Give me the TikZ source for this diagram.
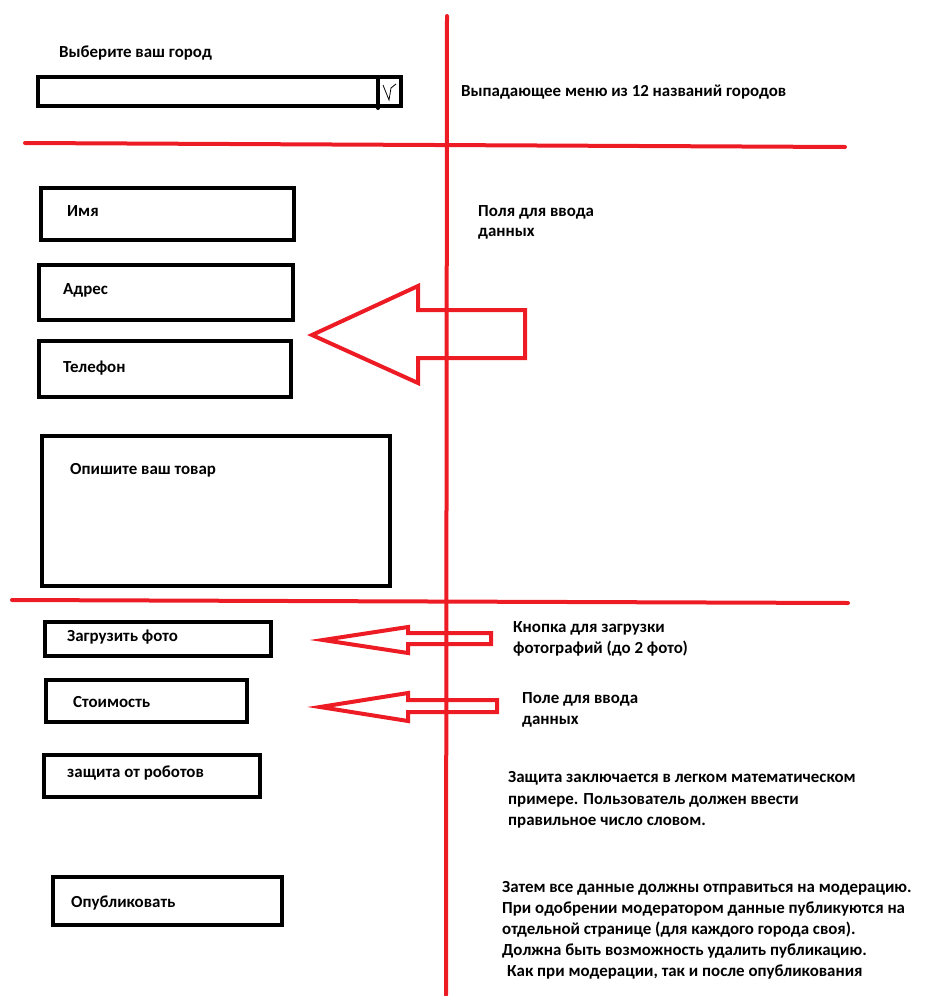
\documentclass[tikz,border=0pt]{standalone}
\usepackage{fontspec}
\setmainfont{Carlito}
\begin{document}
\begin{tikzpicture}[x=1pt,y=-1pt,
  redline/.style={draw={rgb,255:red,237;green,28;blue,36},line width=4pt,line cap=round,line join=miter},
  field/.style={draw=black,line width=4pt,fill=none},
  lbl/.style={anchor=base west,inner sep=0pt,font=\fontsize{16.9}{21}\selectfont\bfseries}]
\useasboundingbox (0,0) rectangle (945,996);
% red lines
\coordinate (vtop) at (447,16);
\coordinate (vbot) at (446,995);
\draw[redline] (vtop) -- (vbot);
\coordinate (h1a) at (25,143);
\coordinate (h1b) at (845,147);
\draw[redline] (h1a) -- (h1b);
\coordinate (h2a) at (12,600);
\coordinate (h2b) at (848,603);
\draw[redline] (h2a) -- (h2b);
% dropdown
\node[lbl] (city) at (59,57) {Выберите ваш город};
\draw[field] (38,77) rectangle (401,106);
\draw[black,line width=4pt] (378,77) -- (378,106);
\fill[black] (378,108) circle (2);
\draw[black,line width=0.8pt] (383,85) -- (389,100) -- (391,88) -- (396,84);
\node[lbl] (menu) at (461,96) {Выпадающее меню из 12 названий городов};
% fields
\draw[field] (41,188) rectangle (294,240);
\node[lbl] (name) at (67,216) {Имя};
\draw[field] (39,265) rectangle (293,320);
\node[lbl] (addr) at (63,294) {Адрес};
\draw[field] (39,341) rectangle (291,397);
\node[lbl] (tel) at (63,372) {Телефон};
\draw[field] (42,436) rectangle (390,586);
\node[lbl] (desc) at (70,474) {Опишите ваш товар};
\node[lbl] (fields1) at (478,216) {Поля для ввода};
\node[lbl] (fields2) at (478,236) {данных};
% big arrow
\draw[redline] (312,335) -- (418,286) -- (418,310) -- (525,310) -- (525,358) -- (418,358) -- (418,383) -- cycle;
% lower fields
\draw[field] (45,622) rectangle (271,656);
\node[lbl] (photo) at (67,641) {Загрузить фото};
\draw[field] (46,680) rectangle (247,722);
\node[lbl] (price) at (73,707) {Стоимость};
\draw[field] (44,755) rectangle (260,797);
\node[lbl] (robot) at (67,777) {защита от роботов};
\draw[field] (53,877) rectangle (282,925);
\node[lbl] (pub) at (71,907) {Опубликовать};
% small arrows
\draw[redline] (323,640) -- (408,627) -- (408,633) -- (491,633) -- (491,644) -- (408,644) -- (408,653) -- cycle;
\draw[redline] (320,707) -- (408,693) -- (408,700) -- (497,700) -- (497,712) -- (408,712) -- (408,721) -- cycle;
\node[lbl] (photonote1) at (513,632) {Кнопка для загрузки};
\node[lbl] (photonote2) at (513,653) {фотографий (до 2 фото)};
\node[lbl] (pricenote1) at (522,703) {Поле для ввода};
\node[lbl] (pricenote2) at (522,724) {данных};
\node[lbl] (robotnote1) at (508,782) {Защита заключается в легком математическом};
\node[lbl] (robotnote2) at (508,804) {примере. Пользователь должен ввести};
\node[lbl] (robotnote3) at (508,825) {правильное число словом.};
\node[lbl] (pubnote1) at (502,892) {Затем все данные должны отправиться на модерацию.};
\node[lbl] (pubnote2) at (502,913) {При одобрении модератором данные публикуются на};
\node[lbl] (pubnote3) at (502,934) {отдельной странице (для каждого города своя).};
\node[lbl] (pubnote4) at (502,955) {Должна быть возможность удалить публикацию.};
\node[lbl] (pubnote5) at (507,976) {Как при модерации, так и после опубликования};
\end{tikzpicture}
\end{document}
